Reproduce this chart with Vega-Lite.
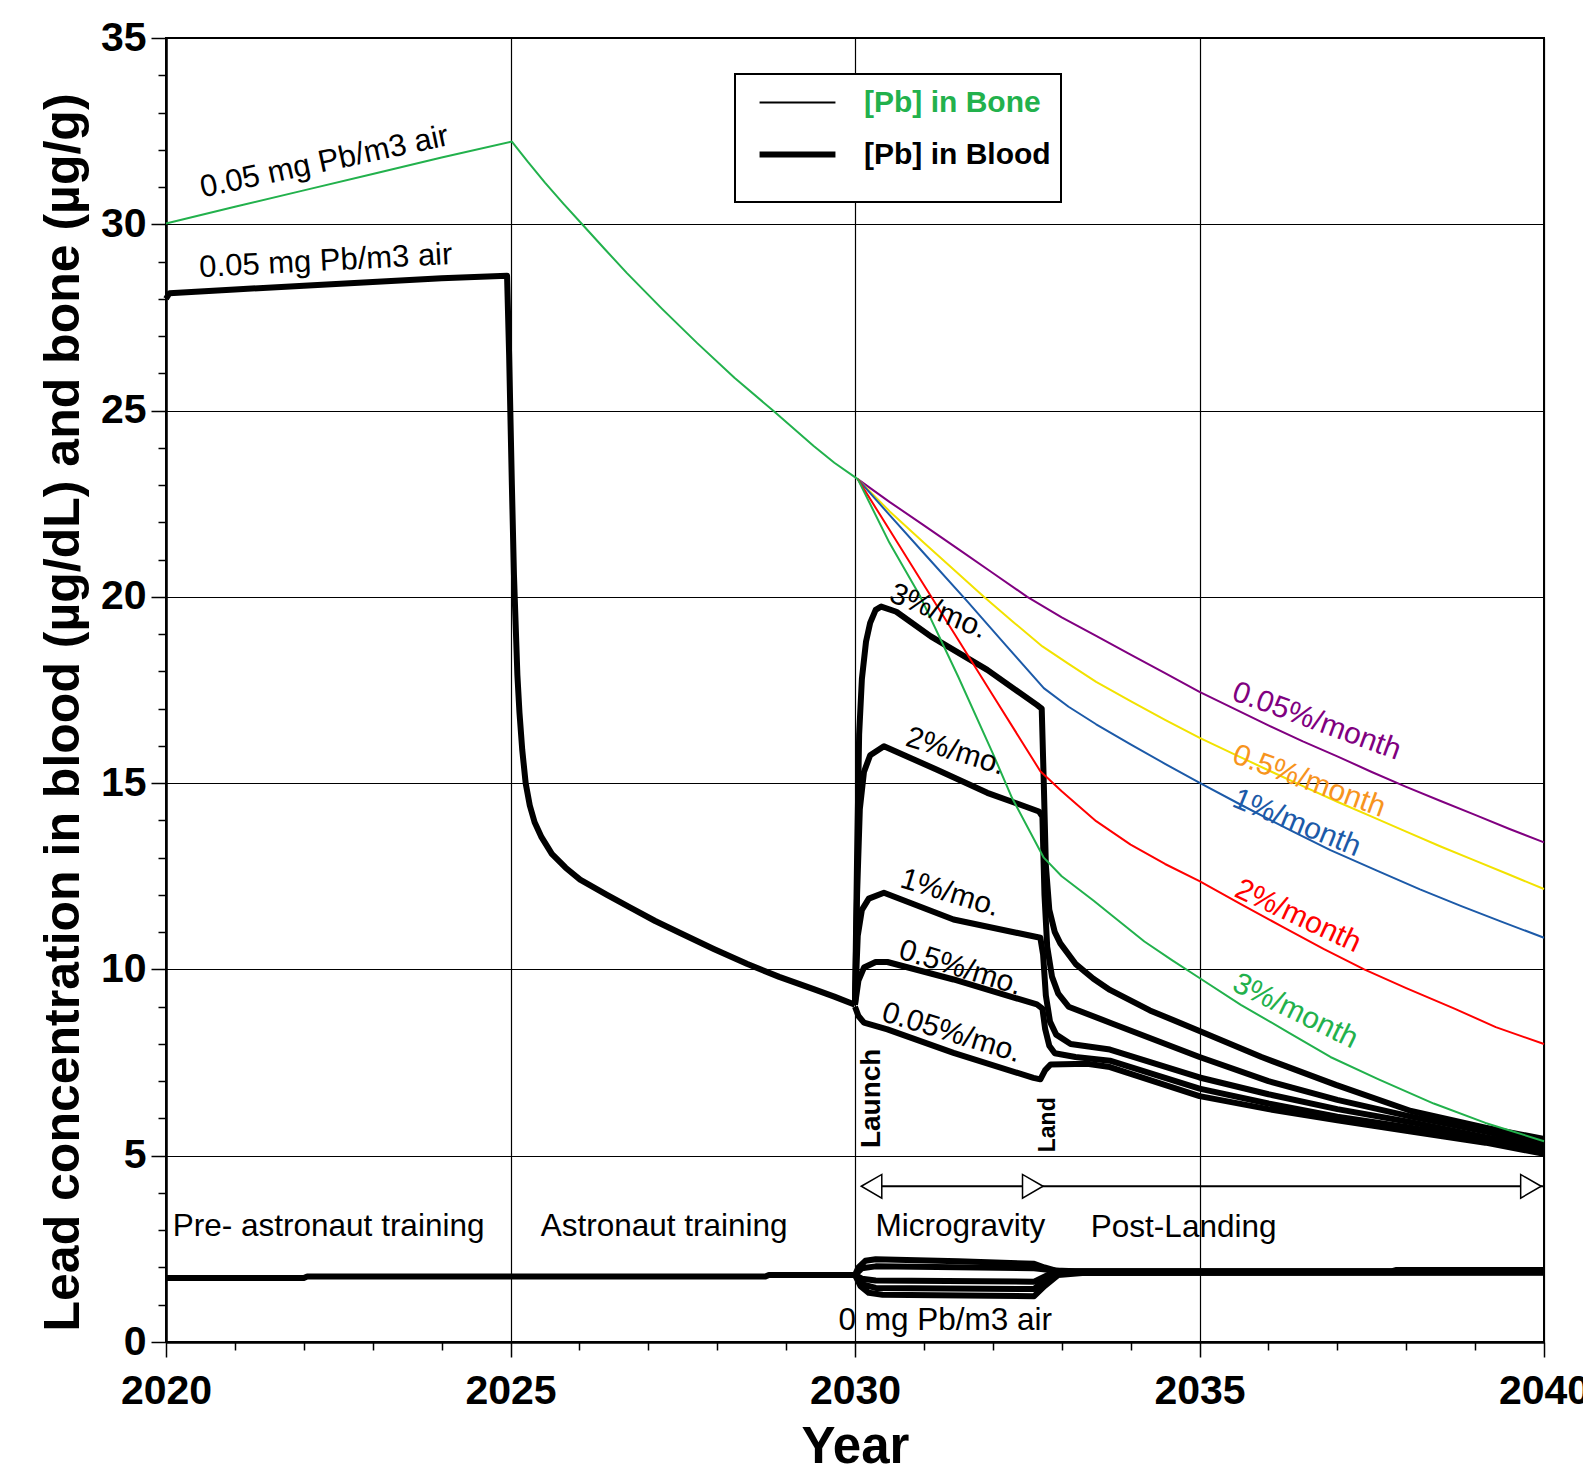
{
  "$schema": "https://vega.github.io/schema/vega-lite/v6.json",
  "width": 1378,
  "height": 1304,
  "autosize": {"type": "none"},
  "padding": {"left": 166, "top": 38, "right": 39, "bottom": 128},
  "background": "white",
  "config": {
    "font": "Liberation Sans",
    "view": {"stroke": "black", "strokeWidth": 2}
  },
  "datasets": {
    "curves": [
      {"s": "blood_base", "kind": "[Pb] in Blood", "x": 2020.0, "y": 28.0},
      {"s": "blood_base", "kind": "[Pb] in Blood", "x": 2020.05, "y": 28.15},
      {"s": "blood_base", "kind": "[Pb] in Blood", "x": 2021, "y": 28.25},
      {"s": "blood_base", "kind": "[Pb] in Blood", "x": 2022, "y": 28.35},
      {"s": "blood_base", "kind": "[Pb] in Blood", "x": 2023, "y": 28.45},
      {"s": "blood_base", "kind": "[Pb] in Blood", "x": 2024, "y": 28.55},
      {"s": "blood_base", "kind": "[Pb] in Blood", "x": 2024.95, "y": 28.62},
      {"s": "blood_base", "kind": "[Pb] in Blood", "x": 2024.98, "y": 26.5},
      {"s": "blood_base", "kind": "[Pb] in Blood", "x": 2025.02, "y": 23.0},
      {"s": "blood_base", "kind": "[Pb] in Blood", "x": 2025.05, "y": 20.6},
      {"s": "blood_base", "kind": "[Pb] in Blood", "x": 2025.1, "y": 17.9},
      {"s": "blood_base", "kind": "[Pb] in Blood", "x": 2025.13, "y": 16.9},
      {"s": "blood_base", "kind": "[Pb] in Blood", "x": 2025.17, "y": 15.9},
      {"s": "blood_base", "kind": "[Pb] in Blood", "x": 2025.22, "y": 15.0},
      {"s": "blood_base", "kind": "[Pb] in Blood", "x": 2025.28, "y": 14.4},
      {"s": "blood_base", "kind": "[Pb] in Blood", "x": 2025.35, "y": 13.95},
      {"s": "blood_base", "kind": "[Pb] in Blood", "x": 2025.45, "y": 13.55},
      {"s": "blood_base", "kind": "[Pb] in Blood", "x": 2025.6, "y": 13.1},
      {"s": "blood_base", "kind": "[Pb] in Blood", "x": 2025.8, "y": 12.73},
      {"s": "blood_base", "kind": "[Pb] in Blood", "x": 2026.01, "y": 12.41},
      {"s": "blood_base", "kind": "[Pb] in Blood", "x": 2026.4, "y": 12.0},
      {"s": "blood_base", "kind": "[Pb] in Blood", "x": 2026.74, "y": 11.66},
      {"s": "blood_base", "kind": "[Pb] in Blood", "x": 2027.1, "y": 11.3},
      {"s": "blood_base", "kind": "[Pb] in Blood", "x": 2027.47, "y": 10.97},
      {"s": "blood_base", "kind": "[Pb] in Blood", "x": 2027.95, "y": 10.55},
      {"s": "blood_base", "kind": "[Pb] in Blood", "x": 2028.43, "y": 10.15},
      {"s": "blood_base", "kind": "[Pb] in Blood", "x": 2028.9, "y": 9.8},
      {"s": "blood_base", "kind": "[Pb] in Blood", "x": 2029.4, "y": 9.47},
      {"s": "blood_base", "kind": "[Pb] in Blood", "x": 2029.7, "y": 9.27},
      {"s": "blood_base", "kind": "[Pb] in Blood", "x": 2030.0, "y": 9.05},

      {"s": "blood_3", "kind": "[Pb] in Blood", "x": 2030.0, "y": 9.05},
      {"s": "blood_3", "kind": "[Pb] in Blood", "x": 2030.03, "y": 13.0},
      {"s": "blood_3", "kind": "[Pb] in Blood", "x": 2030.06, "y": 16.3},
      {"s": "blood_3", "kind": "[Pb] in Blood", "x": 2030.1, "y": 17.8},
      {"s": "blood_3", "kind": "[Pb] in Blood", "x": 2030.16, "y": 18.8},
      {"s": "blood_3", "kind": "[Pb] in Blood", "x": 2030.22, "y": 19.3},
      {"s": "blood_3", "kind": "[Pb] in Blood", "x": 2030.3, "y": 19.65},
      {"s": "blood_3", "kind": "[Pb] in Blood", "x": 2030.38, "y": 19.74},
      {"s": "blood_3", "kind": "[Pb] in Blood", "x": 2030.6, "y": 19.6},
      {"s": "blood_3", "kind": "[Pb] in Blood", "x": 2031.1, "y": 18.94},
      {"s": "blood_3", "kind": "[Pb] in Blood", "x": 2031.92, "y": 18.04},
      {"s": "blood_3", "kind": "[Pb] in Blood", "x": 2032.64, "y": 17.1},
      {"s": "blood_3", "kind": "[Pb] in Blood", "x": 2032.71, "y": 17.0},
      {"s": "blood_3", "kind": "[Pb] in Blood", "x": 2032.74, "y": 15.0},
      {"s": "blood_3", "kind": "[Pb] in Blood", "x": 2032.77, "y": 12.8},
      {"s": "blood_3", "kind": "[Pb] in Blood", "x": 2032.82, "y": 11.6},
      {"s": "blood_3", "kind": "[Pb] in Blood", "x": 2032.9, "y": 11.0},
      {"s": "blood_3", "kind": "[Pb] in Blood", "x": 2032.98, "y": 10.7},
      {"s": "blood_3", "kind": "[Pb] in Blood", "x": 2033.2, "y": 10.15},
      {"s": "blood_3", "kind": "[Pb] in Blood", "x": 2033.46, "y": 9.75},
      {"s": "blood_3", "kind": "[Pb] in Blood", "x": 2033.7, "y": 9.45},
      {"s": "blood_3", "kind": "[Pb] in Blood", "x": 2034.28, "y": 8.9},
      {"s": "blood_3", "kind": "[Pb] in Blood", "x": 2035.0, "y": 8.35},
      {"s": "blood_3", "kind": "[Pb] in Blood", "x": 2035.9, "y": 7.65},
      {"s": "blood_3", "kind": "[Pb] in Blood", "x": 2036.98, "y": 6.9},
      {"s": "blood_3", "kind": "[Pb] in Blood", "x": 2038.07, "y": 6.2},
      {"s": "blood_3", "kind": "[Pb] in Blood", "x": 2039.15, "y": 5.75},
      {"s": "blood_3", "kind": "[Pb] in Blood", "x": 2040.0, "y": 5.45},

      {"s": "blood_2", "kind": "[Pb] in Blood", "x": 2030.0, "y": 9.05},
      {"s": "blood_2", "kind": "[Pb] in Blood", "x": 2030.03, "y": 12.0},
      {"s": "blood_2", "kind": "[Pb] in Blood", "x": 2030.07, "y": 14.3},
      {"s": "blood_2", "kind": "[Pb] in Blood", "x": 2030.13, "y": 15.3},
      {"s": "blood_2", "kind": "[Pb] in Blood", "x": 2030.22, "y": 15.75},
      {"s": "blood_2", "kind": "[Pb] in Blood", "x": 2030.42, "y": 15.99},
      {"s": "blood_2", "kind": "[Pb] in Blood", "x": 2031.19, "y": 15.36},
      {"s": "blood_2", "kind": "[Pb] in Blood", "x": 2031.92, "y": 14.74},
      {"s": "blood_2", "kind": "[Pb] in Blood", "x": 2032.67, "y": 14.24},
      {"s": "blood_2", "kind": "[Pb] in Blood", "x": 2032.72, "y": 14.1},
      {"s": "blood_2", "kind": "[Pb] in Blood", "x": 2032.75, "y": 12.0},
      {"s": "blood_2", "kind": "[Pb] in Blood", "x": 2032.79, "y": 10.6},
      {"s": "blood_2", "kind": "[Pb] in Blood", "x": 2032.86, "y": 9.8},
      {"s": "blood_2", "kind": "[Pb] in Blood", "x": 2032.95, "y": 9.35},
      {"s": "blood_2", "kind": "[Pb] in Blood", "x": 2033.1, "y": 9.0},
      {"s": "blood_2", "kind": "[Pb] in Blood", "x": 2033.73, "y": 8.55},
      {"s": "blood_2", "kind": "[Pb] in Blood", "x": 2035.0, "y": 7.65},
      {"s": "blood_2", "kind": "[Pb] in Blood", "x": 2036.0, "y": 7.0},
      {"s": "blood_2", "kind": "[Pb] in Blood", "x": 2037.0, "y": 6.5},
      {"s": "blood_2", "kind": "[Pb] in Blood", "x": 2038.07, "y": 6.05},
      {"s": "blood_2", "kind": "[Pb] in Blood", "x": 2039.15, "y": 5.65},
      {"s": "blood_2", "kind": "[Pb] in Blood", "x": 2040.0, "y": 5.3},

      {"s": "blood_1", "kind": "[Pb] in Blood", "x": 2030.0, "y": 9.05},
      {"s": "blood_1", "kind": "[Pb] in Blood", "x": 2030.04, "y": 10.9},
      {"s": "blood_1", "kind": "[Pb] in Blood", "x": 2030.1, "y": 11.6},
      {"s": "blood_1", "kind": "[Pb] in Blood", "x": 2030.2, "y": 11.9},
      {"s": "blood_1", "kind": "[Pb] in Blood", "x": 2030.42, "y": 12.06},
      {"s": "blood_1", "kind": "[Pb] in Blood", "x": 2031.43, "y": 11.34},
      {"s": "blood_1", "kind": "[Pb] in Blood", "x": 2032.69, "y": 10.85},
      {"s": "blood_1", "kind": "[Pb] in Blood", "x": 2032.73, "y": 10.4},
      {"s": "blood_1", "kind": "[Pb] in Blood", "x": 2032.77, "y": 9.3},
      {"s": "blood_1", "kind": "[Pb] in Blood", "x": 2032.83, "y": 8.6},
      {"s": "blood_1", "kind": "[Pb] in Blood", "x": 2032.92, "y": 8.25},
      {"s": "blood_1", "kind": "[Pb] in Blood", "x": 2033.13, "y": 8.0},
      {"s": "blood_1", "kind": "[Pb] in Blood", "x": 2033.7, "y": 7.85},
      {"s": "blood_1", "kind": "[Pb] in Blood", "x": 2035.0, "y": 7.1},
      {"s": "blood_1", "kind": "[Pb] in Blood", "x": 2036.0, "y": 6.65},
      {"s": "blood_1", "kind": "[Pb] in Blood", "x": 2037.0, "y": 6.25},
      {"s": "blood_1", "kind": "[Pb] in Blood", "x": 2038.07, "y": 5.9},
      {"s": "blood_1", "kind": "[Pb] in Blood", "x": 2039.15, "y": 5.5},
      {"s": "blood_1", "kind": "[Pb] in Blood", "x": 2040.0, "y": 5.2},

      {"s": "blood_05", "kind": "[Pb] in Blood", "x": 2030.0, "y": 9.05},
      {"s": "blood_05", "kind": "[Pb] in Blood", "x": 2030.05, "y": 9.7},
      {"s": "blood_05", "kind": "[Pb] in Blood", "x": 2030.13, "y": 10.05},
      {"s": "blood_05", "kind": "[Pb] in Blood", "x": 2030.3, "y": 10.2},
      {"s": "blood_05", "kind": "[Pb] in Blood", "x": 2030.47, "y": 10.2},
      {"s": "blood_05", "kind": "[Pb] in Blood", "x": 2031.43, "y": 9.73},
      {"s": "blood_05", "kind": "[Pb] in Blood", "x": 2032.64, "y": 9.06},
      {"s": "blood_05", "kind": "[Pb] in Blood", "x": 2032.72, "y": 8.95},
      {"s": "blood_05", "kind": "[Pb] in Blood", "x": 2032.76, "y": 8.4},
      {"s": "blood_05", "kind": "[Pb] in Blood", "x": 2032.82, "y": 7.95},
      {"s": "blood_05", "kind": "[Pb] in Blood", "x": 2032.9, "y": 7.75},
      {"s": "blood_05", "kind": "[Pb] in Blood", "x": 2033.2, "y": 7.65},
      {"s": "blood_05", "kind": "[Pb] in Blood", "x": 2033.7, "y": 7.55},
      {"s": "blood_05", "kind": "[Pb] in Blood", "x": 2035.0, "y": 6.8},
      {"s": "blood_05", "kind": "[Pb] in Blood", "x": 2036.0, "y": 6.4},
      {"s": "blood_05", "kind": "[Pb] in Blood", "x": 2037.0, "y": 6.05},
      {"s": "blood_05", "kind": "[Pb] in Blood", "x": 2038.07, "y": 5.75},
      {"s": "blood_05", "kind": "[Pb] in Blood", "x": 2039.15, "y": 5.4},
      {"s": "blood_05", "kind": "[Pb] in Blood", "x": 2040.0, "y": 5.1},

      {"s": "blood_005", "kind": "[Pb] in Blood", "x": 2030.0, "y": 9.0},
      {"s": "blood_005", "kind": "[Pb] in Blood", "x": 2030.05, "y": 8.75},
      {"s": "blood_005", "kind": "[Pb] in Blood", "x": 2030.13, "y": 8.57},
      {"s": "blood_005", "kind": "[Pb] in Blood", "x": 2030.47, "y": 8.39},
      {"s": "blood_005", "kind": "[Pb] in Blood", "x": 2031.43, "y": 7.76},
      {"s": "blood_005", "kind": "[Pb] in Blood", "x": 2032.59, "y": 7.09},
      {"s": "blood_005", "kind": "[Pb] in Blood", "x": 2032.69, "y": 7.05},
      {"s": "blood_005", "kind": "[Pb] in Blood", "x": 2032.76, "y": 7.3},
      {"s": "blood_005", "kind": "[Pb] in Blood", "x": 2032.84, "y": 7.45},
      {"s": "blood_005", "kind": "[Pb] in Blood", "x": 2033.37, "y": 7.47},
      {"s": "blood_005", "kind": "[Pb] in Blood", "x": 2033.7, "y": 7.38},
      {"s": "blood_005", "kind": "[Pb] in Blood", "x": 2035.0, "y": 6.6},
      {"s": "blood_005", "kind": "[Pb] in Blood", "x": 2036.0, "y": 6.25},
      {"s": "blood_005", "kind": "[Pb] in Blood", "x": 2037.0, "y": 5.95},
      {"s": "blood_005", "kind": "[Pb] in Blood", "x": 2038.07, "y": 5.65},
      {"s": "blood_005", "kind": "[Pb] in Blood", "x": 2039.15, "y": 5.35},
      {"s": "blood_005", "kind": "[Pb] in Blood", "x": 2040.0, "y": 5.05},

      {"s": "zero_base", "kind": "[Pb] in Blood", "x": 2020.0, "y": 1.72},
      {"s": "zero_base", "kind": "[Pb] in Blood", "x": 2022.0, "y": 1.72},
      {"s": "zero_base", "kind": "[Pb] in Blood", "x": 2022.05, "y": 1.76},
      {"s": "zero_base", "kind": "[Pb] in Blood", "x": 2028.7, "y": 1.76},
      {"s": "zero_base", "kind": "[Pb] in Blood", "x": 2028.75, "y": 1.8},
      {"s": "zero_base", "kind": "[Pb] in Blood", "x": 2030.0, "y": 1.8},

      {"s": "zero_1", "kind": "[Pb] in Blood", "x": 2030.0, "y": 1.8},
      {"s": "zero_1", "kind": "[Pb] in Blood", "x": 2030.05, "y": 2.0},
      {"s": "zero_1", "kind": "[Pb] in Blood", "x": 2030.15, "y": 2.18},
      {"s": "zero_1", "kind": "[Pb] in Blood", "x": 2030.3, "y": 2.22},
      {"s": "zero_1", "kind": "[Pb] in Blood", "x": 2031.5, "y": 2.17},
      {"s": "zero_1", "kind": "[Pb] in Blood", "x": 2032.6, "y": 2.1},
      {"s": "zero_1", "kind": "[Pb] in Blood", "x": 2032.75, "y": 2.0},
      {"s": "zero_1", "kind": "[Pb] in Blood", "x": 2032.9, "y": 1.92},
      {"s": "zero_1", "kind": "[Pb] in Blood", "x": 2033.2, "y": 1.9},
      {"s": "zero_1", "kind": "[Pb] in Blood", "x": 2037.8, "y": 1.9},
      {"s": "zero_1", "kind": "[Pb] in Blood", "x": 2037.85, "y": 1.93},
      {"s": "zero_1", "kind": "[Pb] in Blood", "x": 2040.0, "y": 1.93},

      {"s": "zero_2", "kind": "[Pb] in Blood", "x": 2030.0, "y": 1.8},
      {"s": "zero_2", "kind": "[Pb] in Blood", "x": 2030.1, "y": 1.98},
      {"s": "zero_2", "kind": "[Pb] in Blood", "x": 2030.3, "y": 2.03},
      {"s": "zero_2", "kind": "[Pb] in Blood", "x": 2032.6, "y": 1.98},
      {"s": "zero_2", "kind": "[Pb] in Blood", "x": 2032.8, "y": 1.94},
      {"s": "zero_2", "kind": "[Pb] in Blood", "x": 2033.0, "y": 1.9},
      {"s": "zero_2", "kind": "[Pb] in Blood", "x": 2040.0, "y": 1.9},

      {"s": "zero_3", "kind": "[Pb] in Blood", "x": 2030.0, "y": 1.8},
      {"s": "zero_3", "kind": "[Pb] in Blood", "x": 2030.1, "y": 1.7},
      {"s": "zero_3", "kind": "[Pb] in Blood", "x": 2030.3, "y": 1.65},
      {"s": "zero_3", "kind": "[Pb] in Blood", "x": 2032.6, "y": 1.62},
      {"s": "zero_3", "kind": "[Pb] in Blood", "x": 2032.8, "y": 1.8},
      {"s": "zero_3", "kind": "[Pb] in Blood", "x": 2033.0, "y": 1.88},
      {"s": "zero_3", "kind": "[Pb] in Blood", "x": 2040.0, "y": 1.88},

      {"s": "zero_4", "kind": "[Pb] in Blood", "x": 2030.0, "y": 1.8},
      {"s": "zero_4", "kind": "[Pb] in Blood", "x": 2030.1, "y": 1.55},
      {"s": "zero_4", "kind": "[Pb] in Blood", "x": 2030.3, "y": 1.45},
      {"s": "zero_4", "kind": "[Pb] in Blood", "x": 2032.6, "y": 1.42},
      {"s": "zero_4", "kind": "[Pb] in Blood", "x": 2032.8, "y": 1.75},
      {"s": "zero_4", "kind": "[Pb] in Blood", "x": 2033.0, "y": 1.86},
      {"s": "zero_4", "kind": "[Pb] in Blood", "x": 2040.0, "y": 1.86},

      {"s": "zero_5", "kind": "[Pb] in Blood", "x": 2030.0, "y": 1.8},
      {"s": "zero_5", "kind": "[Pb] in Blood", "x": 2030.08, "y": 1.5},
      {"s": "zero_5", "kind": "[Pb] in Blood", "x": 2030.2, "y": 1.32},
      {"s": "zero_5", "kind": "[Pb] in Blood", "x": 2030.4, "y": 1.27},
      {"s": "zero_5", "kind": "[Pb] in Blood", "x": 2032.6, "y": 1.23},
      {"s": "zero_5", "kind": "[Pb] in Blood", "x": 2032.75, "y": 1.5},
      {"s": "zero_5", "kind": "[Pb] in Blood", "x": 2032.95, "y": 1.8},
      {"s": "zero_5", "kind": "[Pb] in Blood", "x": 2033.3, "y": 1.85},
      {"s": "zero_5", "kind": "[Pb] in Blood", "x": 2040.0, "y": 1.87},

      {"s": "bone_base", "kind": "[Pb] in Bone", "x": 2020.0, "y": 30.02},
      {"s": "bone_base", "kind": "[Pb] in Bone", "x": 2021.0, "y": 30.47},
      {"s": "bone_base", "kind": "[Pb] in Bone", "x": 2022.0, "y": 30.91},
      {"s": "bone_base", "kind": "[Pb] in Bone", "x": 2023.0, "y": 31.35},
      {"s": "bone_base", "kind": "[Pb] in Bone", "x": 2024.0, "y": 31.79},
      {"s": "bone_base", "kind": "[Pb] in Bone", "x": 2025.02, "y": 32.22},
      {"s": "bone_base", "kind": "[Pb] in Bone", "x": 2025.25, "y": 31.68},
      {"s": "bone_base", "kind": "[Pb] in Bone", "x": 2025.5, "y": 31.12},
      {"s": "bone_base", "kind": "[Pb] in Bone", "x": 2025.77, "y": 30.55},
      {"s": "bone_base", "kind": "[Pb] in Bone", "x": 2026.04, "y": 30.0},
      {"s": "bone_base", "kind": "[Pb] in Bone", "x": 2026.37, "y": 29.33},
      {"s": "bone_base", "kind": "[Pb] in Bone", "x": 2026.69, "y": 28.69},
      {"s": "bone_base", "kind": "[Pb] in Bone", "x": 2027.2, "y": 27.73},
      {"s": "bone_base", "kind": "[Pb] in Bone", "x": 2027.71, "y": 26.81},
      {"s": "bone_base", "kind": "[Pb] in Bone", "x": 2028.25, "y": 25.88},
      {"s": "bone_base", "kind": "[Pb] in Bone", "x": 2028.81, "y": 25.0},
      {"s": "bone_base", "kind": "[Pb] in Bone", "x": 2029.4, "y": 24.05},
      {"s": "bone_base", "kind": "[Pb] in Bone", "x": 2029.7, "y": 23.6},
      {"s": "bone_base", "kind": "[Pb] in Bone", "x": 2030.04, "y": 23.16},

      {"s": "bone_005", "kind": "[Pb] in Bone", "x": 2030.04, "y": 23.16},
      {"s": "bone_005", "kind": "[Pb] in Bone", "x": 2030.5, "y": 22.55},
      {"s": "bone_005", "kind": "[Pb] in Bone", "x": 2031.0, "y": 21.92},
      {"s": "bone_005", "kind": "[Pb] in Bone", "x": 2031.5, "y": 21.28},
      {"s": "bone_005", "kind": "[Pb] in Bone", "x": 2032.0, "y": 20.64},
      {"s": "bone_005", "kind": "[Pb] in Bone", "x": 2032.5, "y": 20.0},
      {"s": "bone_005", "kind": "[Pb] in Bone", "x": 2033.0, "y": 19.45},
      {"s": "bone_005", "kind": "[Pb] in Bone", "x": 2033.5, "y": 18.95},
      {"s": "bone_005", "kind": "[Pb] in Bone", "x": 2034.0, "y": 18.45},
      {"s": "bone_005", "kind": "[Pb] in Bone", "x": 2034.5, "y": 17.95},
      {"s": "bone_005", "kind": "[Pb] in Bone", "x": 2035.0, "y": 17.45},
      {"s": "bone_005", "kind": "[Pb] in Bone", "x": 2035.5, "y": 17.0},
      {"s": "bone_005", "kind": "[Pb] in Bone", "x": 2036.0, "y": 16.55},
      {"s": "bone_005", "kind": "[Pb] in Bone", "x": 2036.5, "y": 16.12},
      {"s": "bone_005", "kind": "[Pb] in Bone", "x": 2037.0, "y": 15.72},
      {"s": "bone_005", "kind": "[Pb] in Bone", "x": 2037.5, "y": 15.3},
      {"s": "bone_005", "kind": "[Pb] in Bone", "x": 2038.0, "y": 14.9},
      {"s": "bone_005", "kind": "[Pb] in Bone", "x": 2038.5, "y": 14.52},
      {"s": "bone_005", "kind": "[Pb] in Bone", "x": 2039.0, "y": 14.15},
      {"s": "bone_005", "kind": "[Pb] in Bone", "x": 2039.5, "y": 13.77},
      {"s": "bone_005", "kind": "[Pb] in Bone", "x": 2040.0, "y": 13.41},

      {"s": "bone_05", "kind": "[Pb] in Bone", "x": 2030.04, "y": 23.16},
      {"s": "bone_05", "kind": "[Pb] in Bone", "x": 2030.5, "y": 22.3},
      {"s": "bone_05", "kind": "[Pb] in Bone", "x": 2031.0, "y": 21.45},
      {"s": "bone_05", "kind": "[Pb] in Bone", "x": 2031.5, "y": 20.62},
      {"s": "bone_05", "kind": "[Pb] in Bone", "x": 2031.87, "y": 20.0},
      {"s": "bone_05", "kind": "[Pb] in Bone", "x": 2032.3, "y": 19.32},
      {"s": "bone_05", "kind": "[Pb] in Bone", "x": 2032.72, "y": 18.67},
      {"s": "bone_05", "kind": "[Pb] in Bone", "x": 2033.1, "y": 18.2},
      {"s": "bone_05", "kind": "[Pb] in Bone", "x": 2033.5, "y": 17.72},
      {"s": "bone_05", "kind": "[Pb] in Bone", "x": 2034.0, "y": 17.2},
      {"s": "bone_05", "kind": "[Pb] in Bone", "x": 2034.5, "y": 16.7},
      {"s": "bone_05", "kind": "[Pb] in Bone", "x": 2035.01, "y": 16.21},
      {"s": "bone_05", "kind": "[Pb] in Bone", "x": 2035.5, "y": 15.78},
      {"s": "bone_05", "kind": "[Pb] in Bone", "x": 2036.03, "y": 15.32},
      {"s": "bone_05", "kind": "[Pb] in Bone", "x": 2036.5, "y": 14.92},
      {"s": "bone_05", "kind": "[Pb] in Bone", "x": 2037.0, "y": 14.5},
      {"s": "bone_05", "kind": "[Pb] in Bone", "x": 2037.5, "y": 14.1},
      {"s": "bone_05", "kind": "[Pb] in Bone", "x": 2038.0, "y": 13.7},
      {"s": "bone_05", "kind": "[Pb] in Bone", "x": 2038.5, "y": 13.3},
      {"s": "bone_05", "kind": "[Pb] in Bone", "x": 2039.0, "y": 12.92},
      {"s": "bone_05", "kind": "[Pb] in Bone", "x": 2039.5, "y": 12.54},
      {"s": "bone_05", "kind": "[Pb] in Bone", "x": 2040.0, "y": 12.16},

      {"s": "bone_1", "kind": "[Pb] in Bone", "x": 2030.04, "y": 23.16},
      {"s": "bone_1", "kind": "[Pb] in Bone", "x": 2030.5, "y": 22.2},
      {"s": "bone_1", "kind": "[Pb] in Bone", "x": 2031.0, "y": 21.17},
      {"s": "bone_1", "kind": "[Pb] in Bone", "x": 2031.63, "y": 19.88},
      {"s": "bone_1", "kind": "[Pb] in Bone", "x": 2032.2, "y": 18.68},
      {"s": "bone_1", "kind": "[Pb] in Bone", "x": 2032.74, "y": 17.55},
      {"s": "bone_1", "kind": "[Pb] in Bone", "x": 2033.1, "y": 17.05},
      {"s": "bone_1", "kind": "[Pb] in Bone", "x": 2033.5, "y": 16.58},
      {"s": "bone_1", "kind": "[Pb] in Bone", "x": 2034.0, "y": 16.04},
      {"s": "bone_1", "kind": "[Pb] in Bone", "x": 2034.5, "y": 15.52},
      {"s": "bone_1", "kind": "[Pb] in Bone", "x": 2035.01, "y": 15.0},
      {"s": "bone_1", "kind": "[Pb] in Bone", "x": 2035.6, "y": 14.42},
      {"s": "bone_1", "kind": "[Pb] in Bone", "x": 2036.3, "y": 13.75},
      {"s": "bone_1", "kind": "[Pb] in Bone", "x": 2036.9, "y": 13.2},
      {"s": "bone_1", "kind": "[Pb] in Bone", "x": 2037.6, "y": 12.63},
      {"s": "bone_1", "kind": "[Pb] in Bone", "x": 2038.2, "y": 12.15},
      {"s": "bone_1", "kind": "[Pb] in Bone", "x": 2038.8, "y": 11.7},
      {"s": "bone_1", "kind": "[Pb] in Bone", "x": 2039.4, "y": 11.27},
      {"s": "bone_1", "kind": "[Pb] in Bone", "x": 2040.0, "y": 10.85},

      {"s": "bone_2", "kind": "[Pb] in Bone", "x": 2030.04, "y": 23.16},
      {"s": "bone_2", "kind": "[Pb] in Bone", "x": 2030.5, "y": 21.8},
      {"s": "bone_2", "kind": "[Pb] in Bone", "x": 2031.0, "y": 20.32},
      {"s": "bone_2", "kind": "[Pb] in Bone", "x": 2031.5, "y": 18.84},
      {"s": "bone_2", "kind": "[Pb] in Bone", "x": 2032.0, "y": 17.36},
      {"s": "bone_2", "kind": "[Pb] in Bone", "x": 2032.69, "y": 15.32},
      {"s": "bone_2", "kind": "[Pb] in Bone", "x": 2033.0, "y": 14.78},
      {"s": "bone_2", "kind": "[Pb] in Bone", "x": 2033.5, "y": 13.98},
      {"s": "bone_2", "kind": "[Pb] in Bone", "x": 2034.0, "y": 13.35},
      {"s": "bone_2", "kind": "[Pb] in Bone", "x": 2034.5, "y": 12.83},
      {"s": "bone_2", "kind": "[Pb] in Bone", "x": 2035.0, "y": 12.37},
      {"s": "bone_2", "kind": "[Pb] in Bone", "x": 2035.6, "y": 11.75},
      {"s": "bone_2", "kind": "[Pb] in Bone", "x": 2036.2, "y": 11.15},
      {"s": "bone_2", "kind": "[Pb] in Bone", "x": 2036.8, "y": 10.55},
      {"s": "bone_2", "kind": "[Pb] in Bone", "x": 2037.39, "y": 10.0},
      {"s": "bone_2", "kind": "[Pb] in Bone", "x": 2038.0, "y": 9.5},
      {"s": "bone_2", "kind": "[Pb] in Bone", "x": 2038.7, "y": 8.95},
      {"s": "bone_2", "kind": "[Pb] in Bone", "x": 2039.3, "y": 8.45},
      {"s": "bone_2", "kind": "[Pb] in Bone", "x": 2040.0, "y": 8.0},

      {"s": "bone_3", "kind": "[Pb] in Bone", "x": 2030.04, "y": 23.16},
      {"s": "bone_3", "kind": "[Pb] in Bone", "x": 2030.5, "y": 21.45},
      {"s": "bone_3", "kind": "[Pb] in Bone", "x": 2030.95, "y": 20.0},
      {"s": "bone_3", "kind": "[Pb] in Bone", "x": 2031.5, "y": 17.85},
      {"s": "bone_3", "kind": "[Pb] in Bone", "x": 2032.0, "y": 15.8},
      {"s": "bone_3", "kind": "[Pb] in Bone", "x": 2032.28, "y": 14.6},
      {"s": "bone_3", "kind": "[Pb] in Bone", "x": 2032.74, "y": 13.0},
      {"s": "bone_3", "kind": "[Pb] in Bone", "x": 2033.0, "y": 12.5},
      {"s": "bone_3", "kind": "[Pb] in Bone", "x": 2033.46, "y": 11.85},
      {"s": "bone_3", "kind": "[Pb] in Bone", "x": 2033.73, "y": 11.45},
      {"s": "bone_3", "kind": "[Pb] in Bone", "x": 2034.2, "y": 10.75},
      {"s": "bone_3", "kind": "[Pb] in Bone", "x": 2034.6, "y": 10.25},
      {"s": "bone_3", "kind": "[Pb] in Bone", "x": 2035.0, "y": 9.77},
      {"s": "bone_3", "kind": "[Pb] in Bone", "x": 2035.6, "y": 9.05},
      {"s": "bone_3", "kind": "[Pb] in Bone", "x": 2036.3, "y": 8.3},
      {"s": "bone_3", "kind": "[Pb] in Bone", "x": 2036.9, "y": 7.65},
      {"s": "bone_3", "kind": "[Pb] in Bone", "x": 2037.6, "y": 7.05},
      {"s": "bone_3", "kind": "[Pb] in Bone", "x": 2038.4, "y": 6.4},
      {"s": "bone_3", "kind": "[Pb] in Bone", "x": 2039.15, "y": 5.88},
      {"s": "bone_3", "kind": "[Pb] in Bone", "x": 2040.0, "y": 5.39}
    ]
  },
  "encoding": {
    "x": {
      "field": "x", "type": "quantitative",
      "scale": {"domain": [2020, 2040], "nice": false, "zero": false},
      "axis": {
        "title": "Year",
        "values": [2020,2021,2022,2023,2024,2025,2026,2027,2028,2029,2030,2031,2032,2033,2034,2035,2036,2037,2038,2039,2040],
        "format": "d",
        "labelExpr": "datum.value % 5 === 0 ? datum.label : ''",
        "labelFlush": false, "labelOverlap": false,
        "grid": true, "gridColor": "black", "gridWidth": 1.2,
        "gridOpacity": {"condition": {"test": "datum.value % 5 === 0", "value": 1}, "value": 0},
        "tickSize": {"condition": {"test": "datum.value % 5 === 0", "value": 15}, "value": 8},
        "tickColor": "black", "tickWidth": 1.5,
        "domainColor": "black", "domainWidth": 2.5,
        "labelFont": "Liberation Sans", "labelFontSize": 41, "labelFontWeight": "bold", "labelColor": "black", "labelPadding": 14,
        "titleFont": "Liberation Sans", "titleFontSize": 51, "titleFontWeight": "bold", "titleColor": "black", "titlePadding": 11
      }
    },
    "y": {
      "field": "y", "type": "quantitative",
      "scale": {"domain": [0, 35], "nice": false, "zero": false},
      "axis": {
        "title": "Lead concentration in blood (µg/dL) and bone (µg/g)",
        "values": [0,1,2,3,4,5,6,7,8,9,10,11,12,13,14,15,16,17,18,19,20,21,22,23,24,25,26,27,28,29,30,31,32,33,34,35],
        "format": "d",
        "labelExpr": "datum.value % 5 === 0 ? datum.label : ''",
        "labelFlush": false, "labelOverlap": false,
        "grid": true, "gridColor": "black", "gridWidth": 1.2,
        "gridOpacity": {"condition": {"test": "datum.value % 5 === 0", "value": 1}, "value": 0},
        "tickSize": {"condition": {"test": "datum.value % 5 === 0", "value": 15}, "value": 8},
        "tickColor": "black", "tickWidth": 1.5,
        "domainColor": "black", "domainWidth": 2.5,
        "labelFont": "Liberation Sans", "labelFontSize": 41, "labelFontWeight": "bold", "labelColor": "black", "labelPadding": 5,
        "titleFont": "Liberation Sans", "titleFontSize": 50, "titleFontWeight": "bold", "titleColor": "black", "titlePadding": 12,
        "titleY": 674
      }
    }
  },
  "layer": [
    {
      "data": {"name": "curves"},
      "transform": [{"filter": "datum.kind === '[Pb] in Blood'"}],
      "mark": {"type": "line", "strokeJoin": "round"},
      "encoding": {
        "color": {
          "field": "s", "type": "nominal", "legend": null,
          "scale": {
            "domain": ["bone_base","bone_005","bone_05","bone_1","bone_2","bone_3","blood_base","blood_3","blood_2","blood_1","blood_05","blood_005","zero_base","zero_1","zero_2","zero_3","zero_4","zero_5"],
            "range": ["#22b14c","#800080","#f2e200","#1c5aa8","#ff0000","#22b14c","#000000","#000000","#000000","#000000","#000000","#000000","#000000","#000000","#000000","#000000","#000000","#000000"]
          }
        },
        "strokeWidth": {
          "field": "kind", "type": "nominal",
          "scale": {"type": "point", "domain": ["[Pb] in Bone", "[Pb] in Blood"], "range": [2, 6]},
          "legend": {
            "orient": "none", "legendX": 569, "legendY": 36,
            "direction": "vertical",
            "title": " ", "titleOrient": "bottom", "titleFontSize": 18, "titlePadding": 4,
            "symbolType": "M-2.2,0H2.2", "symbolSize": 1190, "symbolStrokeColor": "black",
            "symbolOffset": 32,
            "labelFont": "Liberation Sans", "labelFontSize": 30, "labelFontWeight": "bold", "labelColor": "black",
            "labelOffset": 46, "labelLimit": 400,
            "strokeColor": "black", "fillColor": "white", "padding": 10, "rowPadding": 16,
            "encode": {
              "labels": {"update": {"fill": {"signal": "datum.label === '[Pb] in Bone' ? '#22b14c' : '#000000'"}}},
              "symbols": {"update": {"stroke": {"value": "black"}, "fill": {"value": "transparent"}}},
              "legend": {"update": {"strokeWidth": {"value": 2}}}
            }
          }
        }
      }
    },
    {
      "data": {"name": "curves"},
      "transform": [{"filter": "datum.kind === '[Pb] in Bone'"}],
      "mark": {"type": "line", "strokeJoin": "round"},
      "encoding": {
        "color": {
          "field": "s", "type": "nominal", "legend": null,
          "scale": {
            "domain": ["bone_base","bone_005","bone_05","bone_1","bone_2","bone_3","blood_base","blood_3","blood_2","blood_1","blood_05","blood_005","zero_base","zero_1","zero_2","zero_3","zero_4","zero_5"],
            "range": ["#22b14c","#800080","#f2e200","#1c5aa8","#ff0000","#22b14c","#000000","#000000","#000000","#000000","#000000","#000000","#000000","#000000","#000000","#000000","#000000","#000000"]
          }
        },
        "strokeWidth": {
          "field": "kind", "type": "nominal",
          "scale": {"type": "point", "domain": ["[Pb] in Bone", "[Pb] in Blood"], "range": [2, 6]}
        }
      }
    },
    {
      "data": {"values": [{"x": 2030.3, "x2": 2040.0, "y": 4.18}]},
      "mark": {"type": "rule", "color": "black", "strokeWidth": 2},
      "encoding": {"x2": {"field": "x2"}}
    },
    {
      "data": {"values": [{"x": 2030.24, "y": 4.18}]},
      "mark": {"type": "point", "shape": "triangle-left", "size": 560, "filled": true, "fill": "white", "stroke": "black", "strokeWidth": 1.5, "opacity": 1}
    },
    {
      "data": {"values": [{"x": 2032.58, "y": 4.18}, {"x": 2039.81, "y": 4.18}]},
      "mark": {"type": "point", "shape": "triangle-right", "size": 560, "filled": true, "fill": "white", "stroke": "black", "strokeWidth": 1.5, "opacity": 1}
    },
    {
      "data": {"values": [
        {"x": 2022.36, "y": 3.09, "t": "Pre- astronaut training"},
        {"x": 2027.23, "y": 3.09, "t": "Astronaut training"},
        {"x": 2031.53, "y": 3.09, "t": "Microgravity"},
        {"x": 2034.77, "y": 3.05, "t": "Post-Landing"},
        {"x": 2031.31, "y": 0.57, "t": "0 mg Pb/m3 air"}
      ]},
      "mark": {"type": "text", "fontSize": 31.5, "color": "black", "align": "center", "baseline": "middle"},
      "encoding": {"text": {"field": "t"}}
    },
    {
      "data": {"values": [{"x": 2022.3, "y": 31.66, "t": "0.05 mg Pb/m3 air"}]},
      "mark": {"type": "text", "fontSize": 31, "color": "black", "align": "center", "baseline": "middle", "angle": -12},
      "encoding": {"text": {"field": "t"}}
    },
    {
      "data": {"values": [{"x": 2022.32, "y": 29.0, "t": "0.05 mg Pb/m3 air"}]},
      "mark": {"type": "text", "fontSize": 31, "color": "black", "align": "center", "baseline": "middle", "angle": -3},
      "encoding": {"text": {"field": "t"}}
    },
    {
      "data": {"values": [{"x": 2030.24, "y": 6.54, "t": "Launch"}]},
      "mark": {"type": "text", "fontSize": 28, "fontWeight": "bold", "color": "black", "align": "center", "baseline": "middle", "angle": -90},
      "encoding": {"text": {"field": "t"}}
    },
    {
      "data": {"values": [{"x": 2032.8, "y": 5.83, "t": "Land"}]},
      "mark": {"type": "text", "fontSize": 23, "fontWeight": "bold", "color": "black", "align": "center", "baseline": "middle", "angle": -90},
      "encoding": {"text": {"field": "t"}}
    },
    {
      "data": {"values": [{"x": 2031.21, "y": 19.61, "t": "3%/mo."}]},
      "mark": {"type": "text", "fontSize": 30, "color": "black", "align": "center", "baseline": "middle", "angle": 22},
      "encoding": {"text": {"field": "t"}}
    },
    {
      "data": {"values": [
        {"x": 2031.46, "y": 15.85, "t": "2%/mo."},
        {"x": 2031.38, "y": 12.05, "t": "1%/mo."},
        {"x": 2031.53, "y": 10.04, "t": "0.5%/mo."},
        {"x": 2031.4, "y": 8.3, "t": "0.05%/mo."}
      ]},
      "mark": {"type": "text", "fontSize": 30, "color": "black", "align": "center", "baseline": "middle", "angle": 17},
      "encoding": {"text": {"field": "t"}}
    },
    {
      "data": {"values": [{"x": 2036.7, "y": 16.66, "t": "0.05%/month"}]},
      "mark": {"type": "text", "fontSize": 30, "color": "#800080", "align": "center", "baseline": "middle", "angle": 20},
      "encoding": {"text": {"field": "t"}}
    },
    {
      "data": {"values": [{"x": 2036.59, "y": 15.05, "t": "0.5%/month"}]},
      "mark": {"type": "text", "fontSize": 30, "color": "#f7941d", "align": "center", "baseline": "middle", "angle": 20},
      "encoding": {"text": {"field": "t"}}
    },
    {
      "data": {"values": [{"x": 2036.41, "y": 13.93, "t": "1%/month"}]},
      "mark": {"type": "text", "fontSize": 30, "color": "#1c5aa8", "align": "center", "baseline": "middle", "angle": 22},
      "encoding": {"text": {"field": "t"}}
    },
    {
      "data": {"values": [{"x": 2036.43, "y": 11.43, "t": "2%/month"}]},
      "mark": {"type": "text", "fontSize": 30, "color": "#ff0000", "align": "center", "baseline": "middle", "angle": 25},
      "encoding": {"text": {"field": "t"}}
    },
    {
      "data": {"values": [{"x": 2036.39, "y": 8.88, "t": "3%/month"}]},
      "mark": {"type": "text", "fontSize": 30, "color": "#22b14c", "align": "center", "baseline": "middle", "angle": 26},
      "encoding": {"text": {"field": "t"}}
    }
  ]
}
